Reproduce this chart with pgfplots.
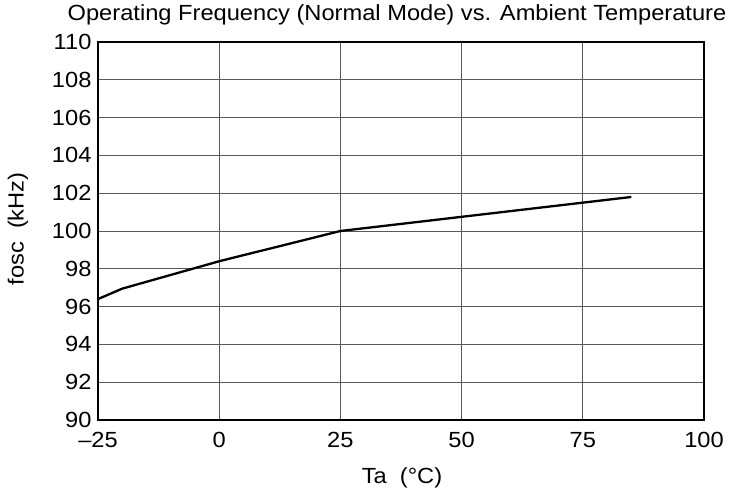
\documentclass[border=0pt]{standalone}
\usepackage{pgfplots}
\pgfplotsset{compat=1.18}
\usepackage{fontspec}
\setmainfont{Liberation Sans}[FakeStretch=1.08]
\begin{document}
\begin{tikzpicture}
\path[use as bounding box] (-98bp,-76bp) rectangle (637bp,420bp);
\begin{axis}[
    at={(0,0)}, anchor=south west,
    scale only axis,
    width=606bp, height=378bp,
    xmin=-25, xmax=100,
    ymin=90, ymax=110,
    xtick={-25,0,25,50,75,100},
    xticklabels={–25,0,25,50,75,100},
    ytick={90,92,...,110},
    yticklabels={90,92,94,96,98,100,102,104,106,108,110},
    major tick length=0pt,
    grid=major,
    major grid style={black!65, line width=0.9bp},
    axis line style={line width=1.3bp},
    tick label style={font=\fontsize{22}{24}\selectfont},
    xticklabel style={yshift=-9bp},
    yticklabel style={xshift=-3bp},
]
\addplot[black, line width=2.3bp] coordinates {
    (-25, 96.4) (-20, 96.95) (0, 98.4) (25, 100.0) (50, 100.75) (75, 101.5) (85, 101.8)
};
\end{axis}
\node[font=\fontsize{22}{24}\selectfont] at (299bp,405bp) {Operating Frequency (Normal Mode) vs. Ambient Temperature};
\node[font=\fontsize{22}{24}\selectfont] at (304bp,-58bp) {Ta\ \ (°C)};
\node[font=\fontsize{22}{24}\selectfont, rotate=90] at (-80bp,191bp) {fosc\ \ (kHz)};
\end{tikzpicture}
\end{document}
